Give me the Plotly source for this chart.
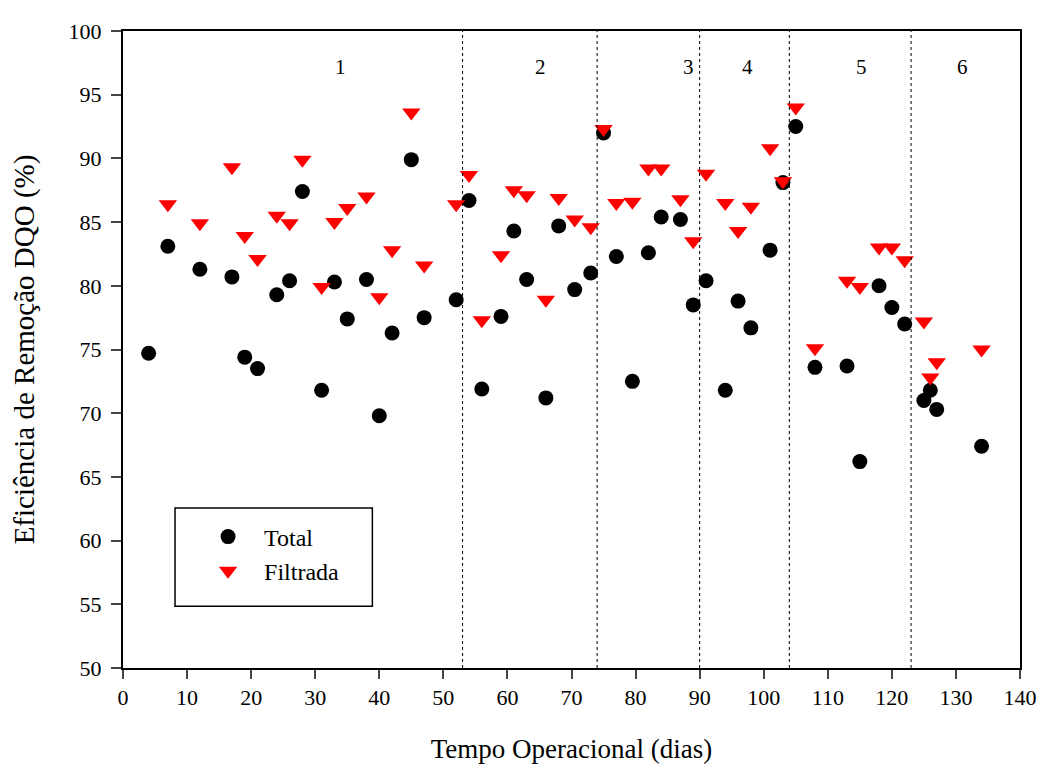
import plotly.graph_objects as go

# Total
total_x = [4, 7, 12, 17, 19, 21, 24, 26, 28, 31, 33, 35, 38, 40, 42, 45, 47, 52,
           54, 56, 59, 61, 63, 66, 68, 70.5, 73, 75, 77, 79.5, 82, 84, 87, 89,
           91, 94, 96, 98, 101, 103, 105, 108, 113, 115, 118, 120, 122, 125, 126, 127, 134]
total_y = [74.7, 83.1, 81.3, 80.7, 74.4, 73.5, 79.3, 80.4, 87.4, 71.8, 80.3, 77.4, 80.5, 69.8, 76.3, 89.9, 77.5, 78.9,
           86.7, 71.9, 77.6, 84.3, 80.5, 71.2, 84.7, 79.7, 81.0, 92.0, 82.3, 72.5, 82.6, 85.4, 85.2, 78.5,
           80.4, 71.8, 78.8, 76.7, 82.8, 88.1, 92.5, 73.6, 73.7, 66.2, 80.0, 78.3, 77.0, 71.0, 71.8, 70.3, 67.4]

# Filtrada
filt_x = [7, 12, 17, 19, 21, 24, 26, 28, 31, 33, 35, 38, 40, 42, 45, 47, 52,
          54, 56, 59, 61, 63, 66, 68, 70.5, 73, 75, 77, 79.5, 82, 84, 87, 89,
          91, 94, 96, 98, 101, 103, 105, 108, 113, 115, 118, 120, 122, 125, 126, 127, 134]
filt_y = [86.4, 84.9, 89.3, 83.9, 82.1, 85.5, 84.9, 89.9, 79.9, 85.0, 86.1, 87.0, 79.1, 82.8, 93.6, 81.6, 86.4,
          88.7, 77.3, 82.4, 87.5, 87.1, 78.9, 86.9, 85.2, 84.6, 92.3, 86.5, 86.6, 89.2, 89.2, 86.8, 83.5,
          88.8, 86.5, 84.3, 86.2, 90.8, 88.2, 94.0, 75.1, 80.4, 79.9, 83.0, 83.0, 82.0, 77.2, 72.8, 74.0, 75.0]

phase_bounds = [53, 74, 90, 104, 123]
phase_labels = ["1", "2", "3", "4", "5", "6"]
phase_label_x = [34, 65.2, 88.3, 97.5, 115.3, 131.1]
phase_label_y = 97.2

x_ticks = list(range(0, 141, 10))
y_ticks = list(range(50, 101, 5))

FONT = "Liberation Serif, Times New Roman, serif"

fig = go.Figure()
fig.add_trace(go.Scatter(x=total_x, y=total_y, mode="markers", name="Total",
                         marker=dict(symbol="circle", size=15, color="black")))
fig.add_trace(go.Scatter(x=filt_x, y=filt_y, mode="markers", name="Filtrada",
                         marker=dict(symbol="triangle-down", size=16, color="#ff0000")))

for b in phase_bounds:
    fig.add_shape(type="line", x0=b, x1=b, y0=50, y1=100, xref="x", yref="y",
                  line=dict(color="black", width=1, dash="dot"))

for lx, lt in zip(phase_label_x, phase_labels):
    fig.add_annotation(x=lx, y=phase_label_y, text=lt, showarrow=False,
                       font=dict(family=FONT, size=21, color="black"))

# legend box
fig.add_shape(type="rect", xref="paper", yref="paper", x0=0.058, x1=0.278, y0=0.097, y1=0.251,
              line=dict(color="black", width=1.5), fillcolor="rgba(0,0,0,0)")

fig.update_layout(
    width=1049, height=778,
    margin=dict(l=115, r=37, t=11, b=118),
    paper_bgcolor="white", plot_bgcolor="white",
    font=dict(family=FONT, size=21, color="black"),
    showlegend=True,
    legend=dict(x=0.077, y=0.241, xanchor="left", yanchor="top",
                bgcolor="rgba(0,0,0,0)", borderwidth=0,
                font=dict(family=FONT, size=24), itemwidth=62, tracegroupgap=0),
    xaxis=dict(range=[0, 140], tickvals=x_ticks, ticks="outside", ticklen=9, tickwidth=1.5,
               showline=True, linecolor="black", linewidth=2, mirror=True, showgrid=False,
               zeroline=False, title=dict(text="Tempo Operacional (dias)", font=dict(size=27), standoff=30),
               tickfont=dict(size=22)),
    yaxis=dict(range=[50, 100], tickvals=y_ticks, ticks="outside", ticklen=10, tickwidth=1.5,
               showline=True, linecolor="black", linewidth=2, mirror=True, showgrid=False,
               zeroline=False, title=dict(text="Eficiência de Remoção DQO (%)", font=dict(size=29), standoff=26),
               tickfont=dict(size=22), ticklabelstandoff=5),
)

fig.write_html("out.html")
